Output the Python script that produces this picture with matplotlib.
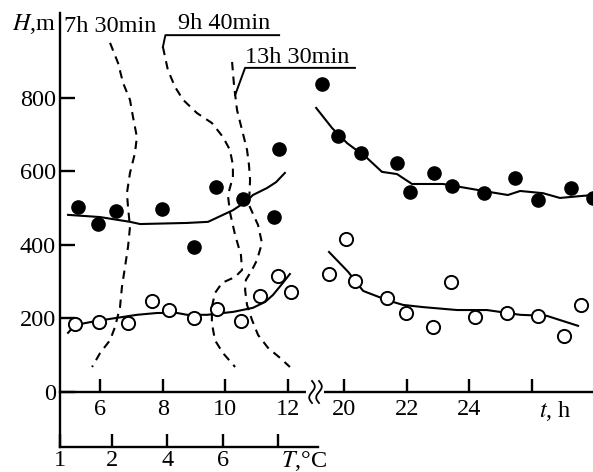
import matplotlib
matplotlib.use("Agg")
import matplotlib.pyplot as plt
from matplotlib.lines import Line2D
from matplotlib.patches import Rectangle
import numpy as np

plt.rcParams['font.family'] = ['Liberation Serif', 'DejaVu Serif']
plt.rcParams['mathtext.fontset'] = 'stix'
plt.rcParams['font.size'] = 17.5

# --- data ------------------------------------------------------------------
# filled circles: upper level (t in h, H in m)
upper_t = [5.30, 5.94, 6.51, 7.98, 9.00, 9.70, 10.56, 11.55, 11.71,
           19.30, 19.81, 20.54, 21.69, 22.11, 22.87, 23.45, 24.47, 25.46,
           26.19, 27.24, 27.95]
upper_h = [503, 457, 493, 498, 395, 558, 525, 476, 661,
           838, 697, 650, 623, 544, 596, 561, 541, 582,
           522, 555, 528]

# open circles: lower level
lower_t = [5.20, 5.97, 6.89, 7.66, 8.20, 9.00, 9.73, 10.50, 11.11, 11.68, 12.10,
           19.52, 20.06, 20.35, 21.37, 21.98, 22.84, 23.42, 24.18, 25.20,
           26.19, 27.02, 27.57]
lower_h = [185, 190, 188, 248, 223, 201, 226, 193, 261, 316, 272,
           321, 416, 302, 256, 215, 177, 299, 204, 215,
           207, 152, 237]

# smoothed curves (solid)
upper_fit_day_t = [4.98, 6.0, 6.96, 7.28, 8.78, 9.45, 10.25, 10.69, 10.88, 11.33, 11.62, 11.90]
upper_fit_day_h = [482, 476, 463, 457, 460, 463, 495, 520, 536, 555, 571, 596]
upper_fit_night_t = [19.11, 19.62, 20.10, 20.73, 21.21, 21.69, 22.17, 23.16, 24.25,
                     24.66, 25.23, 25.62, 26.35, 26.89, 27.53, 27.95]
upper_fit_night_h = [773, 718, 677, 637, 599, 593, 566, 566, 550,
                     544, 536, 547, 541, 528, 533, 536]
lower_fit_day_t = [4.98, 5.20, 5.68, 6.10, 6.48, 7.18, 7.82, 8.46, 8.78, 9.42,
                   10.25, 10.88, 11.27, 11.52, 11.81, 12.06]
lower_fit_day_h = [161, 182, 190, 196, 201, 210, 215, 215, 210, 210,
                   218, 229, 245, 264, 294, 321]
lower_fit_night_t = [19.52, 20.13, 20.61, 21.37, 21.88, 22.52, 23.61, 24.56, 25.62, 26.48, 27.47]
lower_fit_night_h = [381, 327, 275, 250, 237, 231, 223, 223, 210, 207, 180]

# temperature profiles (dashed): T in degC, H in m
prof_0730_T = [1.93, 2.22, 2.40, 2.65, 2.76, 2.90, 2.83, 2.65, 2.54, 2.58,
               2.65, 2.58, 2.47, 2.36, 2.29, 2.11, 1.93, 1.57, 1.28]
prof_0730_H = [950, 895, 841, 795, 748, 694, 650, 596, 541, 503,
               449, 395, 340, 286, 231, 177, 141, 106, 68]
prof_0940_T = [3.84, 4.02, 4.28, 4.57, 5.07, 5.61, 6.01, 6.26, 6.37, 6.37, 6.19, 6.26,
               6.45, 6.66, 6.70, 6.45, 5.98, 5.72, 5.61, 5.61, 5.72, 6.01, 6.45]
prof_0940_H = [939, 876, 830, 795, 759, 732, 694, 659, 618, 585, 536, 490,
               427, 373, 332, 313, 297, 269, 231, 188, 141, 106, 68]
prof_1330_T = [6.34, 6.41, 6.52, 6.70, 6.88, 6.95, 6.99, 6.95, 7.28, 7.42,
               7.24, 7.06, 6.84, 6.81, 6.88, 7.06, 7.28, 7.64, 8.07, 8.43]
prof_1330_H = [898, 835, 767, 713, 659, 618, 577, 509, 454, 405,
               359, 332, 305, 278, 237, 196, 155, 120, 93, 68]

t_ticks = [6, 8, 10, 12, 20, 22, 24, 26]
t_labels = ['6', '8', '10', '12', '20', '22', '24', '']
T_ticks = [2, 4, 6, 8]
T_labels = ['2', '4', '6', '']
H_ticks = [0, 200, 400, 600, 800]

# --- layout helpers --------------------------------------------------------
W, HP = 593.0, 472.0
BREAK_SHIFT = 6.21     # hours removed by the axis break between 12 h and 20 h


def tpos(t):
    t = np.asarray(t, float)
    return np.where(t > 15, t - BREAK_SHIFT, t)


def fpx(x, y):
    return x / W, 1 - y / HP


fig = plt.figure(figsize=(5.93, 4.72), dpi=100)
x0, y0 = fpx(60, 447)
x1, y1 = fpx(593, 13)
ax = fig.add_axes([x0, y0, x1 - x0, y1 - y0])
ax.set_xlim(4.723, 21.736)
ax.set_ylim(-149.7, 1031.3)
ax.patch.set_visible(False)

for s in ['top', 'right']:
    ax.spines[s].set_visible(False)
ax.spines['bottom'].set_position(('data', 0))
ax.spines['left'].set_linewidth(1.7)
ax.spines['bottom'].set_linewidth(1.7)

ax.set_yticks(H_ticks)
ax.set_xticks(tpos(t_ticks))
ax.set_xticklabels(t_labels)
ax.tick_params(axis='y', direction='in', length=11, width=1.7, pad=3)
ax.tick_params(axis='x', direction='in', length=9.5, width=1.7, pad=5)

# solid fitted lines
for tt, hh in [(upper_fit_day_t, upper_fit_day_h), (upper_fit_night_t, upper_fit_night_h),
               (lower_fit_day_t, lower_fit_day_h), (lower_fit_night_t, lower_fit_night_h)]:
    ax.plot(tpos(tt), hh, color='black', lw=1.5, zorder=2)

ax.plot(tpos(upper_t), upper_h, 'o', color='black', ms=9.5, zorder=4)
ax.plot(tpos(lower_t), lower_h, 'o', mfc='white', mec='black', mew=1.4, ms=9.5, zorder=4)

# temperature axis underneath, sharing H
tw = ax.twiny()
tw.set_xlim(0.121, 19.384)
tw.xaxis.set_ticks_position('bottom')
for s in ['top', 'right', 'left']:
    tw.spines[s].set_visible(False)
tw.spines['bottom'].set_bounds(0.121, 9.44)
tw.spines['bottom'].set_linewidth(1.7)
tw.set_xticks([0.121] + T_ticks)
tw.set_xticklabels(['1'] + T_labels)
tw.tick_params(axis='x', direction='in', length=9.5, width=1.7, pad=2)

for TT, HH in [(prof_0730_T, prof_0730_H), (prof_0940_T, prof_0940_H), (prof_1330_T, prof_1330_H)]:
    tw.plot(TT, HH, color='black', lw=1.5, ls=(0, (4, 3)), zorder=3)

# leader lines from profile labels
tw.plot([prof_0940_T[0], 3.93, 8.04], [prof_0940_H[0], 971, 971], color='black', lw=1.4)
tw.plot([6.45, 6.81, 10.78], [808, 882, 882], color='black', lw=1.4)

# axis break on the time axis
bx, by = fpx(306, 395)
bx2, by2 = fpx(324, 389)
fig.patches.append(Rectangle((bx, by), bx2 - bx, by2 - by, transform=fig.transFigure,
                             facecolor='white', edgecolor='none', zorder=5))
s = np.linspace(0, 1, 40)
for cx in [312, 319]:
    xs = cx + 2.8 * np.sin(2 * np.pi * s)
    ys = 381 + 22 * s
    fx_, fy_ = fpx(xs, ys)
    fig.lines.append(Line2D(fx_, fy_, transform=fig.transFigure, color='black', lw=1.3, zorder=6))

# text labels
for txt, (px, py) in [(r'$H$,m', (12, 30)), ('7h 30min', (64, 32)), ('9h 40min', (178, 29)),
                      ('13h 30min', (245, 63)), (r'$t$, h', (539, 417)), (r'$T$,°C', (281, 467))]:
    fx_, fy_ = fpx(px, py)
    fig.text(fx_, fy_, txt, ha='left', va='baseline')

fig.savefig('out.png', dpi=100)
